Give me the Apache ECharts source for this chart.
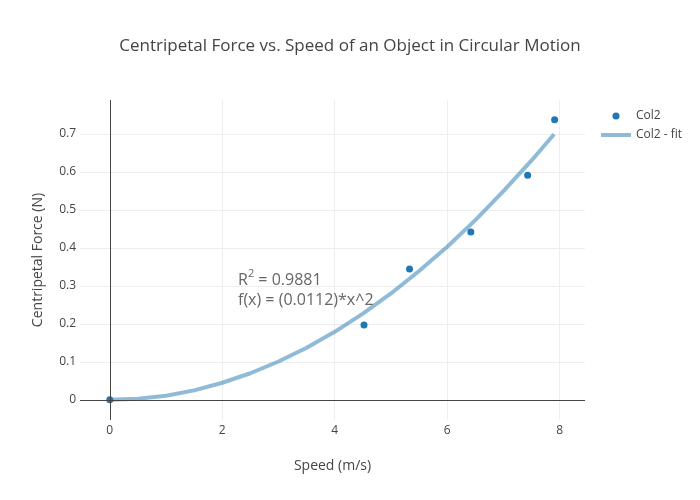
<!DOCTYPE html>
<html>
<head>
<meta charset="utf-8">
<script src="https://cdn.jsdelivr.net/npm/echarts@6/dist/echarts.min.js"></script>
<style>html,body{margin:0;padding:0;background:#fff;}#c{width:700px;height:500px;}</style>
</head>
<body>
<div id="c"></div>
<script>
const titleText = 'Centripetal Force vs. Speed of an Object in Circular Motion';
const xName = 'Speed (m/s)';
const yName = 'Centripetal Force (N)';
const speed = [0, 4.52, 5.33, 6.42, 7.43, 7.91];
const force = [0, 0.197, 0.344, 0.442, 0.591, 0.737];
const fitX = [0, 0.5, 1, 1.5, 2, 2.5, 3, 3.5, 4, 4.5, 5, 5.5, 6, 6.5, 7, 7.5, 7.9];
const fitY = [0, 0.003, 0.011, 0.025, 0.045, 0.07, 0.101, 0.137, 0.179, 0.227, 0.28, 0.339, 0.403, 0.473, 0.549, 0.63, 0.699];
const seriesNames = ['Col2', 'Col2 - fit'];
const annotationR2 = '0.9881';
const annotationFx = 'f(x) = (0.0112)*x^2';

const FONT = '"Open Sans", "Noto Sans", sans-serif';
const FIT_COLOR = 'rgba(31,119,180,0.5)';
const chart = echarts.init(document.getElementById('c'), null, {renderer: 'canvas'});
chart.setOption({
  animation: false,
  backgroundColor: '#fff',
  textStyle: {fontFamily: FONT},
  title: {
    text: titleText, left: 'center', top: 33,
    textStyle: {fontFamily: FONT, fontSize: 17, fontWeight: 'normal', color: '#444'}
  },
  legend: {
    orient: 'vertical', left: 601, top: 110, padding: 0, itemWidth: 30, itemHeight: 7, itemGap: 7,
    symbolKeepAspect: true,
    textStyle: {fontFamily: FONT, fontSize: 12, color: '#444'},
    data: [
      {name: seriesNames[0], icon: 'circle'},
      {name: seriesNames[1], icon: 'path://M0,0L30,0L30,4L0,4Z'}
    ]
  },
  grid: {left: 80, right: 115, top: 100, bottom: 80, containLabel: false},
  xAxis: {
    type: 'value', min: -0.53, max: 8.45, splitNumber: 5,
    name: xName, nameLocation: 'middle', nameGap: 39,
    nameTextStyle: {fontFamily: FONT, fontSize: 14, color: '#444'},
    axisLine: {show: false}, axisTick: {show: false},
    axisLabel: {fontFamily: FONT, fontSize: 12, color: '#444', margin: 5, showMinLabel: false, showMaxLabel: false},
    splitLine: {show: true, showMinLine: false, showMaxLine: false, lineStyle: {color: '#eee', width: 1}}
  },
  yAxis: {
    type: 'value', min: -0.053, max: 0.789, splitNumber: 8,
    name: yName, nameLocation: 'middle', nameGap: 35,
    nameTextStyle: {fontFamily: FONT, fontSize: 14, color: '#444'},
    axisLine: {show: false}, axisTick: {show: false},
    axisLabel: {fontFamily: FONT, fontSize: 12, color: '#444', margin: 4, showMinLabel: false, showMaxLabel: false},
    splitLine: {show: true, showMinLine: false, showMaxLine: false, lineStyle: {color: '#eee', width: 1}}
  },
  series: [
    {
      name: seriesNames[1], type: 'line', z: 2,
      data: fitX.map((x, i) => [x, fitY[i]]),
      symbol: 'none', smooth: false,
      lineStyle: {color: FIT_COLOR, width: 4},
      itemStyle: {color: FIT_COLOR},
      markLine: {
        silent: true, symbol: 'none', label: {show: false},
        lineStyle: {color: '#444', width: 1, type: 'solid'},
        data: [{xAxis: 0}, {yAxis: 0}]
      }
    },
    {
      name: seriesNames[0], type: 'scatter', z: 3,
      data: speed.map((x, i) => [x, force[i]]),
      symbol: 'circle', symbolSize: 7,
      itemStyle: {color: '#1f77b4', opacity: 1}
    }
  ],
  graphic: [
    {
      type: 'text', left: 238, top: 268, z: 10,
      style: {
        text: '{a|R}{s|2}{a| = ' + annotationR2 + '}\n{a|' + annotationFx + '}',
        fontFamily: FONT, fill: '#666',
        rich: {
          a: {fontFamily: FONT, fontSize: 16, fill: '#666', color: '#666', lineHeight: 20, verticalAlign: 'bottom'},
          s: {fontFamily: FONT, fontSize: 11, fill: '#666', color: '#666', lineHeight: 20, verticalAlign: 'top', padding: [0, 0, 6, 0]}
        }
      }
    }
  ]
});
</script>
</body>
</html>
